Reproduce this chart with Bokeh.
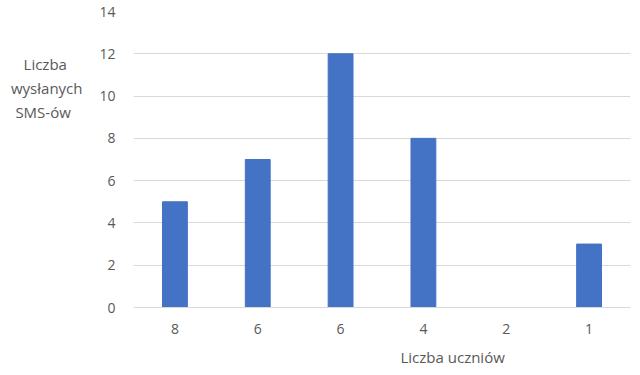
from bokeh.plotting import figure
from bokeh.models import FixedTicker, Range1d, Title
from bokeh.embed import file_html
from bokeh.resources import INLINE

# data
category_labels = ["8", "6", "6", "4", "2", "1"]
sms_counts = [5, 7, 12, 8, 0, 3]
y_ticks = [0, 2, 4, 6, 8, 10, 12, 14]
y_title_lines = ["Liczba", "wysłanych", "SMS-ów"]
x_title = "Liczba uczniów"

x_pos = list(range(len(category_labels)))

FONT = "Open Sans"
GREY = "#595959"
NBSP = "\u00a0"

p = figure(width=640, height=375, output_backend="svg", toolbar_location=None,
           x_range=Range1d(-0.5, len(category_labels) - 0.5),
           y_range=Range1d(0, 14),
           min_border_left=133, min_border_right=10,
           min_border_top=11, min_border_bottom=68)
p.outline_line_color = None
p.background_fill_color = "white"
p.border_fill_color = "white"

p.vbar(x=x_pos, top=sms_counts, width=0.3, color="#4472C4")

# y axis
p.yaxis.ticker = FixedTicker(ticks=y_ticks)
p.yaxis.axis_line_color = None
p.yaxis.major_tick_line_color = None
p.yaxis.minor_tick_line_color = None
p.yaxis.major_label_text_font = FONT
p.yaxis.major_label_text_font_size = "14px"
p.yaxis.major_label_text_color = GREY
p.yaxis.major_label_standoff = 12

# y axis title: horizontal, lines visually centred (non-breaking-space padding),
# trailing padding lines lift the block towards the top of the axis
title_text = "\n".join([
    y_title_lines[0] + NBSP * 4,
    y_title_lines[1],
    y_title_lines[2] + NBSP * 3,
] + [NBSP] * 6)
p.yaxis.axis_label = title_text
p.yaxis.axis_label_orientation = "horizontal"
p.yaxis.axis_label_standoff = 14
p.yaxis.axis_label_text_font = FONT
p.yaxis.axis_label_text_font_size = "15px"
p.yaxis.axis_label_text_font_style = "normal"
p.yaxis.axis_label_text_color = GREY

# x axis
p.xaxis.ticker = FixedTicker(ticks=x_pos)
p.xaxis.major_label_overrides = {i: lab for i, lab in enumerate(category_labels)}
p.xaxis.axis_line_color = "#d9d9d9"
p.xaxis.major_tick_line_color = None
p.xaxis.minor_tick_line_color = None
p.xaxis.major_label_text_font = FONT
p.xaxis.major_label_text_font_size = "14px"
p.xaxis.major_label_text_color = GREY
p.xaxis.major_label_standoff = 10

p.xgrid.grid_line_color = None
p.ygrid.grid_line_color = "#d9d9d9"
p.ygrid.grid_line_width = 1

p.add_layout(Title(text=x_title, align="left", offset=267, standoff=17,
                   text_font=FONT, text_font_size="15px", text_font_style="normal",
                   text_color=GREY), "below")

open("out.html", "w").write(file_html(p, INLINE))
